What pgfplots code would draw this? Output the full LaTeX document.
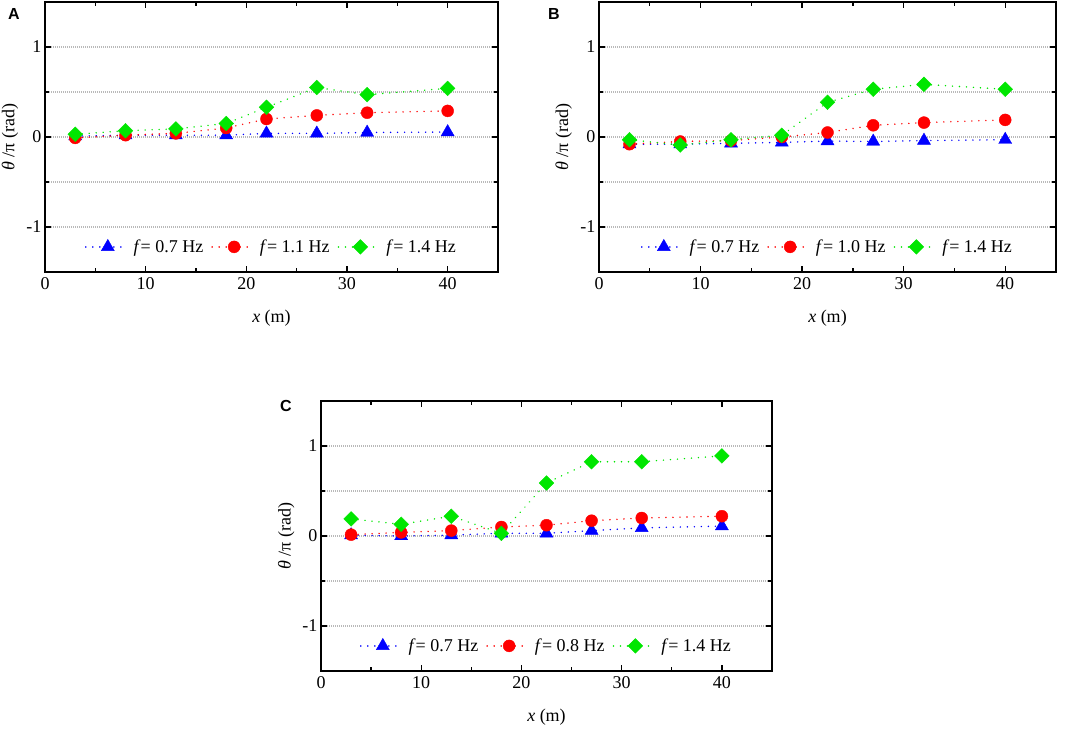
\documentclass[border=0pt]{standalone}
\usepackage{fontspec}
\setmainfont{Liberation Serif}
\newfontfamily\labfont{Liberation Sans}
\usepackage{pgfplots}
\pgfplotsset{compat=1.18}
\definecolor{cblue}{RGB}{0,0,255}
\definecolor{cred}{RGB}{255,0,0}
\definecolor{cgreen}{RGB}{0,230,0}
\pgfplotsset{
 panel/.style={scale only axis, width=453pt, height=270pt,
  xmin=0, xmax=45, ymin=-1.5, ymax=1.5,
  xtick={0,10,20,30,40}, xticklabels={\textrm{0},\textrm{10},\textrm{20},\textrm{30},\textrm{40}}, minor xtick={5,15,25,35},
  ytick={-1,0,1}, yticklabels={\textrm{-1},\textrm{0},\textrm{1}}, minor ytick={-0.5,0.5},
  ymajorgrids, yminorgrids,
  major grid style={gray!55, line width=1.2pt, dash pattern=on 0.8pt off 1.2pt},
  minor grid style={gray!55, line width=1.2pt, dash pattern=on 0.8pt off 1.2pt},
  tick align=inside, major tick length=6pt, minor tick length=4pt,
  every tick/.style={black, line width=1.3pt},
  axis line style={line width=2pt},
  tick label style={font=\rmfamily\fontsize{18}{20}\selectfont},
  label style={font=\rmfamily\fontsize{18}{20}\selectfont},
  xlabel={\textit{x} (m)}, ylabel={\textit{θ} /π (rad)},
  xlabel style={at={(axis description cs:0.5,-0.170)}, anchor=center},
  ylabel style={at={(axis description cs:-0.077,0.5)}, anchor=center, rotate=0},
  xticklabel style={yshift=-2pt},
  legend style={draw=none, fill=none, at={(0.5,0.093)}, anchor=center,
   legend columns=-1, font=\rmfamily\fontsize{18}{20}\selectfont,
   /tikz/every even column/.append style={column sep=6pt},
   /tikz/every odd column/.append style={column sep=3pt}},
  legend image code/.code={\draw[mark repeat=2,mark phase=2] plot coordinates {(0pt,0pt)(22pt,0pt)(42pt,0pt)};},
 },
 sblue/.style={color=cblue, line width=1.6pt, dash pattern=on 0.01pt off 7pt, line cap=round, mark=triangle*, mark size=7.5pt, mark options={solid, fill=cblue, draw=cblue, line width=0.4pt}},
 sred/.style={color=cred, line width=1.6pt, dash pattern=on 0.01pt off 7pt, line cap=round, mark=*, mark size=6pt, mark options={solid, fill=cred, draw=cred, line width=0.4pt}},
 sgreen/.style={color=cgreen, line width=1.6pt, dash pattern=on 0.01pt off 7pt, line cap=round, mark=square*, mark size=5.2pt, mark options={solid, rotate=45, fill=cgreen, draw=cgreen, line width=0.4pt}},
}
\begin{document}
\begin{tikzpicture}
\useasboundingbox (0,0) rectangle (1072pt,-733pt);
% Panel A
\begin{axis}[panel, at={(45pt,-272pt)}, anchor=south west, width=453pt]
\addplot[sblue] coordinates {(3,0.01)(8,0.02)(13,0.02)(18,0.02)(22,0.04)(27,0.04)(32,0.05)(40,0.055)};
\addlegendentry{\textit{f}= 0.7 Hz}
\addplot[sred] coordinates {(3,-0.01)(8,0.02)(13,0.04)(18,0.1)(22,0.2)(27,0.24)(32,0.27)(40,0.29)};
\addlegendentry{\textit{f}= 1.1 Hz}
\addplot[sgreen] coordinates {(3,0.03)(8,0.07)(13,0.09)(18,0.15)(22,0.33)(27,0.55)(32,0.47)(40,0.54)};
\addlegendentry{\textit{f}= 1.4 Hz}
\end{axis}
% Panel B
\begin{axis}[panel, at={(599pt,-272pt)}, anchor=south west, width=457pt]
\addplot[sblue] coordinates {(3,-0.08)(8,-0.08)(13,-0.07)(18,-0.06)(22.5,-0.045)(27,-0.05)(32,-0.04)(40,-0.03)};
\addlegendentry{\textit{f}= 0.7 Hz}
\addplot[sred] coordinates {(3,-0.08)(8,-0.05)(13,-0.04)(18,0.0)(22.5,0.05)(27,0.13)(32,0.16)(40,0.19)};
\addlegendentry{\textit{f}= 1.0 Hz}
\addplot[sgreen] coordinates {(3,-0.03)(8,-0.09)(13,-0.03)(18,0.02)(22.5,0.385)(27,0.53)(32,0.585)(40,0.53)};
\addlegendentry{\textit{f}= 1.4 Hz}
\end{axis}
% Panel C
\begin{axis}[panel, at={(321pt,-671pt)}, anchor=south west, width=451pt]
\addplot[sblue] coordinates {(3,0.01)(8,0.0)(13,0.01)(18,0.03)(22.5,0.03)(27,0.06)(32,0.09)(40,0.11)};
\addlegendentry{\textit{f}= 0.7 Hz}
\addplot[sred] coordinates {(3,0.015)(8,0.04)(13,0.06)(18,0.1)(22.5,0.12)(27,0.17)(32,0.2)(40,0.22)};
\addlegendentry{\textit{f}= 0.8 Hz}
\addplot[sgreen] coordinates {(3,0.19)(8,0.13)(13,0.22)(18,0.03)(22.5,0.59)(27,0.825)(32,0.825)(40,0.89)};
\addlegendentry{\textit{f}= 1.4 Hz}
\end{axis}
\node[font=\labfont\bfseries\fontsize{16}{18}\selectfont] at (14pt,-14pt) {A};
\node[font=\labfont\bfseries\fontsize{16}{18}\selectfont] at (554pt,-14pt) {B};
\node[font=\labfont\bfseries\fontsize{16}{18}\selectfont] at (286pt,-406pt) {C};
\end{tikzpicture}
\end{document}
